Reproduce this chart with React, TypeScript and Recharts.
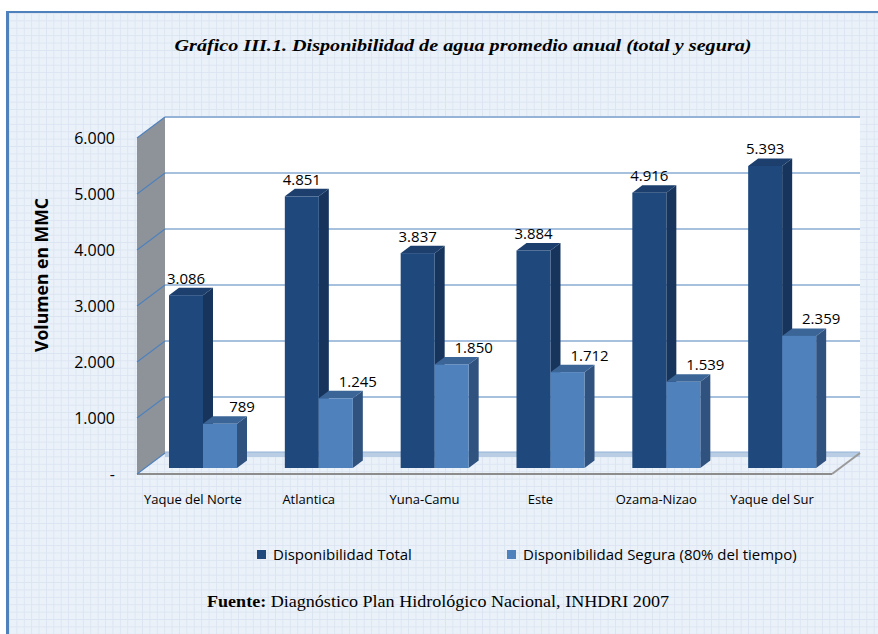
import { BarChart, Bar, XAxis, YAxis, CartesianGrid, ReferenceArea, LabelList, Legend } from "recharts";

const regions = ["Yaque del Norte", "Atlantica", "Yuna-Camu", "Este", "Ozama-Nizao", "Yaque del Sur"];
const totalValues = [3086, 4851, 3837, 3884, 4916, 5393];
const seguraValues = [789, 1245, 1850, 1712, 1539, 2359];
const yTicks = [0, 1000, 2000, 3000, 4000, 5000, 6000];

const data = regions.map((region, i) => ({
  region,
  total: totalValues[i],
  segura: seguraValues[i],
}));

// fake 3D: back wall is the plot area, bars and axis text sit further forward
const WALL_DX = 28;
const WALL_DY = 21;
const BAR_DX = -20;
const BAR_DY = 15;
const DEPTH_X = 10;
const DEPTH_Y = 7.5;

const DARK = { front: "#1f497d", side: "#17345c", top: "#1d3f6d" };
const LIGHT = { front: "#4f81bd", side: "#30527f", top: "#3b6597" };

const FONT = "'Open Sans', 'Liberation Sans', sans-serif";

const fmt = (v: number) => (v === 0 ? "-" : String(v).replace(/\B(?=(\d{3})+(?!\d))/g, "."));

function Box3D(props: any) {
  const { x, y, width, height, colors } = props;
  if (width == null || height == null) return null;
  const x0 = x + BAR_DX;
  const y0 = y + BAR_DY;
  const x1 = x0 + width;
  const y1 = y0 + height;
  return (
    <g>
      <polygon
        points={`${x1},${y0} ${x1 + DEPTH_X},${y0 - DEPTH_Y} ${x1 + DEPTH_X},${y1 - DEPTH_Y} ${x1},${y1}`}
        fill={colors.side}
      />
      <polygon
        points={`${x0},${y0} ${x0 + DEPTH_X},${y0 - DEPTH_Y} ${x1 + DEPTH_X},${y0 - DEPTH_Y} ${x1},${y0}`}
        fill={colors.top}
      />
      <rect x={x0} y={y0} width={width} height={height} fill={colors.front} />
    </g>
  );
}

const valueLabel = (offsetX: number) => (props: any) => {
  const { x, y, width, value } = props;
  return (
    <text
      x={x + width / 2 + BAR_DX + offsetX}
      y={y + BAR_DY - 11.5}
      textAnchor="middle"
      fontSize={15}
      fontFamily={FONT}
      fill="#000"
    >
      {fmt(value)}
    </text>
  );
};

function YTick(props: any) {
  const { x, y, payload } = props;
  return (
    <g>
      <line x1={x - WALL_DX} y1={y + WALL_DY} x2={x} y2={y} stroke="#4f81bd" strokeWidth={1.2} />
      <text x={x - 50} y={y + WALL_DY} dy={5.7} textAnchor="end" fontSize={16} fontFamily={FONT} fill="#000">
        {fmt(payload.value)}
      </text>
    </g>
  );
}

function XTick(props: any) {
  const { x, y, payload } = props;
  return (
    <text x={x - 30} y={y + 51} textAnchor="middle" fontSize={13} fontFamily={FONT} fill="#000">
      {payload.value}
    </text>
  );
}

function Walls(props: any) {
  const { x, y, width, height } = props;
  const by = y + height;
  return (
    <g>
      <polygon
        points={`${x - WALL_DX},${y + WALL_DY} ${x},${y} ${x},${by} ${x - WALL_DX},${by + WALL_DY}`}
        fill="#8d9399"
      />
      <line x1={x} y1={y} x2={x + width} y2={y} stroke="#95b3d7" strokeWidth={2} />
      <rect x={x} y={by - 1} width={width} height={5} fill="#b9cde5" />
      <line x1={x} y1={by - 1} x2={x + width} y2={by - 1} stroke="#95b3d7" strokeWidth={1} />
      <line
        x1={x - WALL_DX}
        y1={by + WALL_DY}
        x2={x + width - WALL_DX}
        y2={by + WALL_DY}
        stroke="#8c8c8c"
        strokeWidth={2}
      />
      <line
        x1={x + width - WALL_DX}
        y1={by + WALL_DY}
        x2={x + width}
        y2={by}
        stroke="#9a9a9a"
        strokeWidth={2}
      />
    </g>
  );
}

const LEGEND_X: Record<string, number> = { total: 257, segura: 507 };

function LegendContent(props: any) {
  const { payload } = props;
  return (
    <div style={{ position: "relative", height: 20, fontFamily: FONT, fontSize: 15, color: "#000" }}>
      {(payload || []).map((item: any) => (
        <div
          key={item.value}
          style={{
            position: "absolute",
            left: LEGEND_X[item.dataKey],
            top: 0,
            display: "flex",
            alignItems: "center",
            height: 20,
          }}
        >
          <span style={{ display: "inline-block", width: 9, height: 9, background: item.color, marginRight: 7 }} />
          <span style={{ whiteSpace: "nowrap" }}>{item.value}</span>
        </div>
      ))}
    </div>
  );
}

export default function App() {
  return (
    <div style={{ position: "absolute", left: 0, top: 0, width: 878, height: 634, background: "#fff", overflow: "hidden" }}>
      <div
        style={{
          position: "absolute",
          left: 6,
          top: 11,
          width: 900,
          height: 700,
          borderLeft: "3px solid #4f81bd",
          borderTop: "2px solid #4f81bd",
          backgroundColor: "#ebf1f9",
          backgroundImage:
            "linear-gradient(to right, #dbe5f1 1px, transparent 1px), linear-gradient(to bottom, #dbe5f1 1px, transparent 1px)",
          backgroundSize: "7.4px 7.4px",
        }}
      />
      <div style={{ position: "absolute", left: 0, top: 0 }}>
        <BarChart
          width={878}
          height={634}
          data={data}
          margin={{ top: 117, right: 18, left: 105, bottom: 131 }}
          barCategoryGap={24}
          barGap={0}
        >
          <CartesianGrid vertical={false} stroke="#4f81bd" fill="#ffffff" />
          <ReferenceArea y1={0} y2={6000} shape={Walls} ifOverflow="visible" />
          <XAxis dataKey="region" axisLine={false} tickLine={false} tickSize={0} tickMargin={0} height={30} tick={<XTick />} interval={0} />
          <YAxis
            domain={[0, 6000]}
            ticks={yTicks}
            axisLine={false}
            tickLine={false}
            tickSize={0}
            tickMargin={0}
            width={60}
            tick={<YTick />}
            interval={0}
          />
          <Legend
            verticalAlign="bottom"
            content={<LegendContent />}
            wrapperStyle={{ position: "absolute", left: 0, top: 544, width: 878, height: 20 }}
          />
          <Bar
            dataKey="total"
            name="Disponibilidad Total"
            fill={DARK.front}
            isAnimationActive={false}
            shape={(p: any) => <Box3D {...p} colors={DARK} />}
          >
            <LabelList dataKey="total" content={valueLabel(0)} />
          </Bar>
          <Bar
            dataKey="segura"
            name="Disponibilidad Segura (80% del tiempo)"
            fill={LIGHT.front}
            isAnimationActive={false}
            shape={(p: any) => <Box3D {...p} colors={LIGHT} />}
          >
            <LabelList dataKey="segura" content={valueLabel(22)} />
          </Bar>
        </BarChart>
      </div>
      <svg width={878} height={634} style={{ position: "absolute", left: 0, top: 0, pointerEvents: "none" }}>
        <text
          x={463}
          y={51}
          textAnchor="middle"
          fontFamily="'Liberation Serif', serif"
          fontWeight="bold"
          fontStyle="italic"
          fontSize={17}
          textLength={577}
          lengthAdjust="spacingAndGlyphs"
          fill="#000"
        >
          Gráfico III.1. Disponibilidad de agua promedio anual  (total y segura)
        </text>
        <text
          transform="translate(48 275) rotate(-90)"
          textAnchor="middle"
          fontFamily={FONT}
          fontWeight="bold"
          fontSize={17}
          textLength={154}
          lengthAdjust="spacingAndGlyphs"
          fill="#000"
        >
          Volumen en MMC
        </text>
        <text
          x={207}
          y={607}
          fontFamily="'Liberation Serif', serif"
          fontSize={16}
          textLength={462}
          lengthAdjust="spacingAndGlyphs"
          fill="#000"
        >
          <tspan fontWeight="bold">Fuente:</tspan> Diagnóstico Plan Hidrológico Nacional, INHDRI 2007
        </text>
      </svg>
    </div>
  );
}
